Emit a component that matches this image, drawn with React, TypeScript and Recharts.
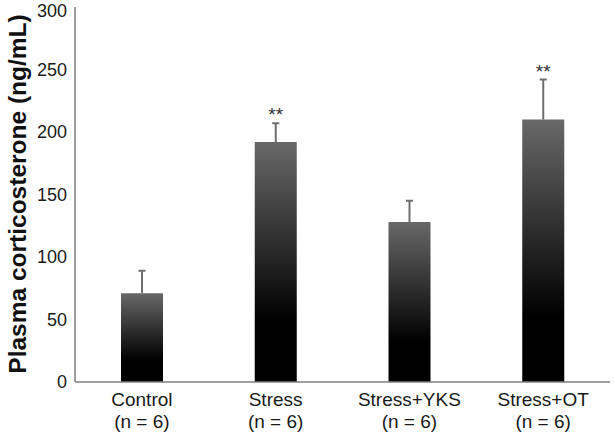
import React from 'react';
import { BarChart, Bar, XAxis, YAxis } from 'recharts';

const groups = ['Control', 'Stress', 'Stress+YKS', 'Stress+OT'];
const groupSizes = ['(n = 6)', '(n = 6)', '(n = 6)', '(n = 6)'];
const means = [71, 192, 128, 210];
const errors = [18, 15, 17, 32];
const marks = ['', '**', '', '**'];
const yTicks = [0, 50, 100, 150, 200, 250, 300];

const data = groups.map((g, i) => ({
  name: g,
  n: groupSizes[i],
  value: means[i],
  err: errors[i],
  mark: marks[i],
}));

const FONT = '"Liberation Sans", Arial, Helvetica, sans-serif';

const BarWithError = (props: any) => {
  const { x, y, width, height, value, payload } = props;
  const v = Array.isArray(value) ? value[1] : value;
  const pxPerUnit = v ? height / v : 0;
  const errTop = y - payload.err * pxPerUnit;
  const cx = x + width / 2;
  return (
    <g>
      <rect x={x} y={y} width={width} height={height} fill="url(#barGrad)" />
      <line x1={cx} x2={cx} y1={y} y2={errTop} stroke="#6e6e6e" strokeWidth={2} />
      <line x1={cx - 3.5} x2={cx + 3.5} y1={errTop} y2={errTop} stroke="#6e6e6e" strokeWidth={2} />
      {payload.mark ? (
        <text x={cx} y={errTop - 2} textAnchor="middle" fontSize={19} fill="#333" fontFamily={FONT}>
          {payload.mark}
        </text>
      ) : null}
    </g>
  );
};

const CategoryTick = (props: any) => {
  const { x, y, index } = props;
  return (
    <g>
      <text x={x} y={y + 16} textAnchor="middle" fontSize={19} fill="#1a1a1a" fontFamily={FONT}>
        {groups[index]}
      </text>
      <text x={x} y={y + 38} textAnchor="middle" fontSize={19} fill="#1a1a1a" fontFamily={FONT}>
        {groupSizes[index]}
      </text>
    </g>
  );
};

const YLabel = () => (
  <text
    x={17}
    y={194}
    transform="rotate(-90, 17, 194)"
    textAnchor="middle"
    dominantBaseline="central"
    fontSize={24.5}
    fontWeight="bold"
    fill="#111"
    fontFamily={FONT}
  >
    Plasma corticosterone (ng/mL)
  </text>
);

export default function App() {
  return (
    <div style={{ position: 'absolute', left: 0, top: 0, width: 615, height: 433, background: '#fff' }}>
      <BarChart
        width={615}
        height={433}
        data={data}
        margin={{ top: 7, right: 5, bottom: 0, left: 0 }}
      >
        <defs>
          <linearGradient id="barGrad" x1="0" y1="0" x2="0" y2="1">
            <stop offset="0%" stopColor="#686868" />
            <stop offset="75%" stopColor="#000000" />
            <stop offset="100%" stopColor="#000000" />
          </linearGradient>
        </defs>
        <XAxis
          dataKey="name"
          tickLine={false}
          axisLine={{ stroke: '#808080', strokeWidth: 1.5 }}
          tick={<CategoryTick />}
          interval={0}
          height={51}
        />
        <YAxis
          width={75}
          domain={[0, 300]}
          ticks={yTicks}
          tickLine={false}
          tickMargin={2}
          axisLine={{ stroke: '#808080', strokeWidth: 1.5 }}
          tick={{ fontSize: 18, fill: '#1a1a1a', fontFamily: FONT }}
          label={<YLabel />}
        />
        <Bar dataKey="value" barSize={42} isAnimationActive={false} shape={<BarWithError />} />
      </BarChart>
    </div>
  );
}
